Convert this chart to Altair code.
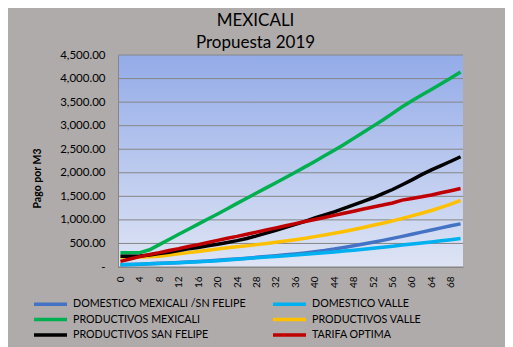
import altair as alt
import pandas as pd

# ---- data ----
consumo = list(range(0, 71, 2))

series_names = [
    "DOMESTICO MEXICALI /SN FELIPE",
    "DOMESTICO VALLE",
    "PRODUCTIVOS MEXICALI",
    "PRODUCTIVOS VALLE",
    "PRODUCTIVOS SAN FELIPE",
    "TARIFA OPTIMA",
]
series_colors = ["#4472C4", "#00B0F0", "#00B050", "#FFC000", "#000000", "#C00000"]

domestico_mexicali = [50, 55, 60, 68, 77, 86, 95, 105, 116, 128, 142, 157, 172, 188, 205, 222, 240, 258,
                      278, 300, 325, 350, 380, 415, 450, 487, 525, 565, 607, 650, 695, 740, 785, 830, 875, 915]
domestico_valle = [50, 55, 60, 68, 76, 84, 92, 100, 110, 120, 135, 150, 165, 180, 195, 210, 225, 240,
                   255, 270, 285, 300, 318, 338, 358, 378, 398, 420, 442, 465, 488, 510, 532, 555, 580, 605]
productivos_mexicali = [300, 300, 305, 365, 475, 585, 695, 800, 910, 1020, 1125, 1235, 1350, 1460, 1570, 1680,
                        1790, 1900, 2010, 2125, 2240, 2360, 2480, 2600, 2730, 2860, 2990, 3120, 3260, 3400,
                        3530, 3650, 3770, 3890, 4010, 4140]
productivos_valle = [210, 210, 212, 215, 230, 255, 280, 305, 330, 355, 380, 408, 430, 450, 475, 500, 525, 550,
                     580, 610, 645, 680, 715, 755, 795, 840, 885, 930, 980, 1030, 1085, 1140, 1200, 1265,
                     1335, 1415]
productivos_san_felipe = [229, 229, 232, 255, 285, 315, 350, 385, 415, 450, 485, 520, 560, 605, 660, 720, 780,
                          840, 905, 970, 1040, 1105, 1170, 1245, 1320, 1395, 1470, 1555, 1645, 1745, 1850,
                          1960, 2060, 2150, 2245, 2340]
tarifa_optima = [120, 170, 220, 265, 305, 350, 390, 435, 475, 520, 565, 610, 650, 695, 740, 785, 830, 875,
                 920, 965, 1010, 1050, 1095, 1140, 1185, 1230, 1275, 1315, 1360, 1420, 1455, 1490, 1530,
                 1575, 1620, 1665]

x_ticks = list(range(0, 69, 4))
y_ticks = [0, 500, 1000, 1500, 2000, 2500, 3000, 3500, 4000, 4500]

all_values = [domestico_mexicali, domestico_valle, productivos_mexicali,
              productivos_valle, productivos_san_felipe, tarifa_optima]

rows = []
for name, vals in zip(series_names, all_values):
    for c, v in zip(consumo, vals):
        rows.append({"serie": name, "consumo": c, "pago": v})
df = pd.DataFrame(rows)
grid_df = pd.DataFrame({"pago": y_ticks})

# legend is filled column by column: reorder so it reads row by row like the reference
legend_order = [series_names[i] for i in (0, 2, 4, 1, 3, 5)]
legend_colors = [series_colors[i] for i in (0, 2, 4, 1, 3, 5)]

FONT = "Lato"
GRID = "#868686"

y_scale = alt.Scale(domain=[0, 4500], nice=False)
x_scale = alt.Scale(domain=[-0.5, 70.5], nice=False, zero=False)

y_axis = alt.Axis(values=y_ticks,
                  labelExpr="datum.value == 0 ? '-' : format(datum.value, ',.2f')",
                  title="Pago por M3", titleFont=FONT, titleFontSize=10.5, titleFontWeight="bold",
                  titleColor="#000000", titleX=-81, titleY=123, titleAlign="center",
                  titleBaseline="middle",
                  ticks=False, grid=False,
                  labelPadding=13, labelFontSize=11.5, labelFont=FONT, labelColor="#000000",
                  domainColor=GRID, zindex=1)

# plot-area background with vertical gradient
background = alt.Chart(pd.DataFrame({"a": [0]})).mark_rect(
    fill=alt.LinearGradient(
        gradient="linear", x1=0, y1=0, x2=0, y2=1,
        stops=[alt.GradientStop(offset=0, color="#93ABE8"),
               alt.GradientStop(offset=1, color="#DEE4F4")],
    )
).encode(x=alt.value(0), x2=alt.value("width"), y=alt.value(0), y2=alt.value("height"))

gridlines = alt.Chart(grid_df).mark_rule(color=GRID, strokeWidth=1).encode(
    y=alt.Y("pago:Q", scale=y_scale, axis=y_axis)
)

lines = alt.Chart(df).mark_line(strokeWidth=3.5).encode(
    x=alt.X(
        "consumo:Q",
        scale=x_scale,
        axis=alt.Axis(values=x_ticks, labelAngle=-90, title=None, ticks=False, grid=False,
                      labelPadding=9, labelFontSize=10, labelFont=FONT, labelColor="#000000",
                      domainColor=GRID, labelFlush=False, zindex=1),
    ),
    y=alt.Y("pago:Q", scale=y_scale, axis=y_axis),
    color=alt.Color(
        "serie:N",
        scale=alt.Scale(domain=legend_order, range=legend_colors),
        sort=legend_order,
        legend=alt.Legend(title=None, orient="none", legendX=-64, legendY=241.5, columns=2,
                          symbolType="M-5,0H1", symbolSize=121, symbolStrokeWidth=3.5,
                          labelFont=FONT, labelFontSize=10.7, labelColor="#000000", labelLimit=400,
                          labelOffset=4, columnPadding=20, rowPadding=0.5),
    ),
)

chart = alt.layer(background, gridlines, lines).properties(
    width=345,
    height=212,
    title=alt.TitleParams(text=["MEXICALI", "Propuesta 2019"], font=FONT, fontSize=17,
                          fontWeight="normal", color="#000000", anchor="middle", frame="group",
                          dx=-35, dy=7, offset=4, lineHeight=22),
    autosize=alt.AutoSizeParams(type="none"),
    padding={"left": 110, "top": 47, "right": 42, "bottom": 80},
).configure(
    background="#AFABAB",
    font=FONT,
).configure_view(
    stroke="transparent",
)

chart.save("out.html", embed_options={"renderer": "svg", "actions": False})
